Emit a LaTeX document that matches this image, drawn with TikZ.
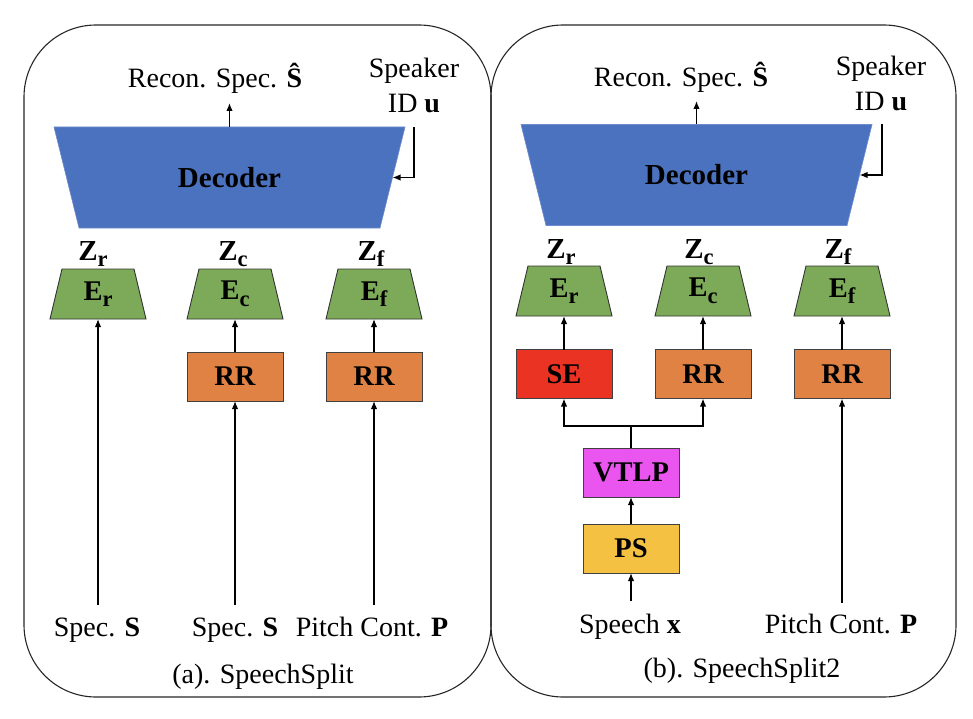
\documentclass[tikz,border=0pt]{standalone}
\usepackage{fontspec}
\setmainfont{Liberation Serif}
\usetikzlibrary{arrows.meta,backgrounds}
\definecolor{decblue}{RGB}{74,114,190}
\definecolor{decedge}{RGB}{110,140,205}
\definecolor{encgreen}{RGB}{124,170,88}
\definecolor{rrorange}{RGB}{224,130,68}
\definecolor{sered}{RGB}{235,51,36}
\definecolor{vtlpmag}{RGB}{234,85,240}
\definecolor{psyellow}{RGB}{244,193,66}
\newcommand{\sbx}[1]{\raisebox{-6.5pt}{\fontsize{22.5}{22.5}\selectfont\bfseries #1}}
% trapezoid drawn behind a node: #1 node, #2 top inset, #3 bottom inset, #4 style
\newcommand{\trapbehind}[4]{%
  \begin{pgfonlayer}{background}
  \path[#4] ([xshift=#2]#1.north west) -- ([xshift=-#2]#1.north east)
     -- ([xshift=-#3]#1.south east) -- ([xshift=#3]#1.south west) -- cycle;
  \end{pgfonlayer}}
\begin{document}
\begin{tikzpicture}[x=1pt,y=-1pt,
  every node/.style={font=\fontsize{28}{35}\selectfont, inner sep=0pt, outer sep=0pt},
  panelline/.style={draw=black!85, line width=1.1pt, rounded corners=72pt},
  decoder/.style={rectangle, minimum width=351pt, minimum height=101pt,
    font=\fontsize{29}{34}\selectfont\bfseries},
  decshape/.style={fill=decblue, draw=decedge, line width=0.6pt},
  encoder/.style={rectangle, minimum width=96pt, minimum height=50pt,
    font=\fontsize{28.5}{34}\selectfont\bfseries},
  encshape/.style={fill=encgreen, draw=black!80, line width=0.9pt},
  box/.style={rectangle, draw=black!75, line width=0.9pt, minimum width=96pt, minimum height=49pt,
    font=\fontsize{28.5}{34}\selectfont\bfseries},
  zlabel/.style={anchor=base, font=\fontsize{29}{34}\selectfont\bfseries},
  arr/.style={draw=black, line width=1.4pt, -{Latex[length=8pt,width=6.5pt]}},
  plain/.style={draw=black, line width=1.4pt}
]
\useasboundingbox (0,0) rectangle (973,719);

% panels
\draw[panelline] (24,25) rectangle (491,697);
\draw[panelline] (491,25) rectangle (956,697);

% ================= (a) SpeechSplit =================
\node[anchor=base] (reconA) at (215,88) {Recon. Spec. \textbf{Ŝ}};
\node[anchor=north, align=center] (spkA) at (414,58) {Speaker\\ID \textbf{u}};
\node[decoder] (decA) at (229.5,177.5) {Decoder};
\trapbehind{decA}{0pt}{25pt}{decshape}
\coordinate (reconInA) at (229.5,103);
\coordinate (uA) at (414,127);
\draw[arr] (decA.north) -- (reconInA);
\draw[arr] (uA) |- ([xshift=-12.5pt]decA.east);

\node[zlabel] (zrA) at (93,260) {Z\sbx{r}};
\node[zlabel] (zcA) at (233,260) {Z\sbx{c}};
\node[zlabel] (zfA) at (371,260) {Z\sbx{f}};

\node[encoder] (erA) at (98,294) {E\sbx{r}};
\node[encoder] (ecA) at (235,294) {E\sbx{c}};
\node[encoder] (efA) at (374,294) {E\sbx{f}};
\trapbehind{erA}{12pt}{0pt}{encshape}
\trapbehind{ecA}{12pt}{0pt}{encshape}
\trapbehind{efA}{12pt}{0pt}{encshape}

\node[box, fill=rrorange] (rrA1) at (235,376.5) {RR};
\node[box, fill=rrorange] (rrA2) at (374,376.5) {RR};

\draw[arr] (rrA1.north) -- (ecA.south);
\draw[arr] (rrA2.north) -- (efA.south);

\node[anchor=base] (specA1) at (97,636) {Spec. \textbf{S}};
\node[anchor=base] (specA2) at (235,636) {Spec. \textbf{S}};
\node[anchor=base] (pitchA) at (372,636) {Pitch Cont. \textbf{P}};
\coordinate (inA1) at (98,605);
\coordinate (inA2) at (235,605);
\coordinate (inA3) at (374,605);
\draw[arr] (inA1) -- (erA.south);
\draw[arr] (inA2) -- (rrA1.south);
\draw[arr] (inA3) -- (rrA2.south);

\node[anchor=base] (capA) at (263,683) {(a). SpeechSplit};

% ================= (b) SpeechSplit2 =================
\node[anchor=base] (reconB) at (681,87) {Recon. Spec. \textbf{Ŝ}};
\node[anchor=north, align=center] (spkB) at (881,56) {Speaker\\ID \textbf{u}};
\node[decoder] (decB) at (696.5,175) {Decoder};
\trapbehind{decB}{0pt}{25pt}{decshape}
\coordinate (reconInB) at (696.5,101);
\coordinate (uB) at (882,124);
\draw[arr] (decB.north) -- (reconInB);
\draw[arr] (uB) |- ([xshift=-12.5pt]decB.east);

\node[zlabel] (zrB) at (561,258) {Z\sbx{r}};
\node[zlabel] (zcB) at (699,258) {Z\sbx{c}};
\node[zlabel] (zfB) at (838,258) {Z\sbx{f}};

\node[encoder] (erB) at (564,291) {E\sbx{r}};
\node[encoder] (ecB) at (703,291) {E\sbx{c}};
\node[encoder] (efB) at (842,291) {E\sbx{f}};
\trapbehind{erB}{12pt}{0pt}{encshape}
\trapbehind{ecB}{12pt}{0pt}{encshape}
\trapbehind{efB}{12pt}{0pt}{encshape}

\node[box, fill=sered] (seB) at (564,374) {SE};
\node[box, fill=rrorange] (rrB1) at (703,374) {RR};
\node[box, fill=rrorange] (rrB2) at (842,374) {RR};

\draw[arr] (seB.north) -- (erB.south);
\draw[arr] (rrB1.north) -- (ecB.south);
\draw[arr] (rrB2.north) -- (efB.south);

\node[box, fill=vtlpmag] (vtlpB) at (631,472.5) {VTLP};
\node[box, fill=psyellow] (psB) at (631,548.5) {PS};
\coordinate (junB) at (631,426);
\draw[plain] (vtlpB.north) -- (junB);
\draw[arr] (junB) -| (seB.south);
\draw[arr] (junB) -| (rrB1.south);
\draw[arr] (psB.north) -- (vtlpB.south);

\node[anchor=base] (speechB) at (630,633) {Speech \textbf{x}};
\node[anchor=base] (pitchB) at (841,633) {Pitch Cont. \textbf{P}};
\coordinate (inB1) at (631,601);
\coordinate (inB2) at (842,603);
\draw[arr] (inB1) -- (psB.south);
\draw[arr] (inB2) -- (rrB2.south);

\node[anchor=base] (capB) at (742,677) {(b). SpeechSplit2};
\end{tikzpicture}
\end{document}
